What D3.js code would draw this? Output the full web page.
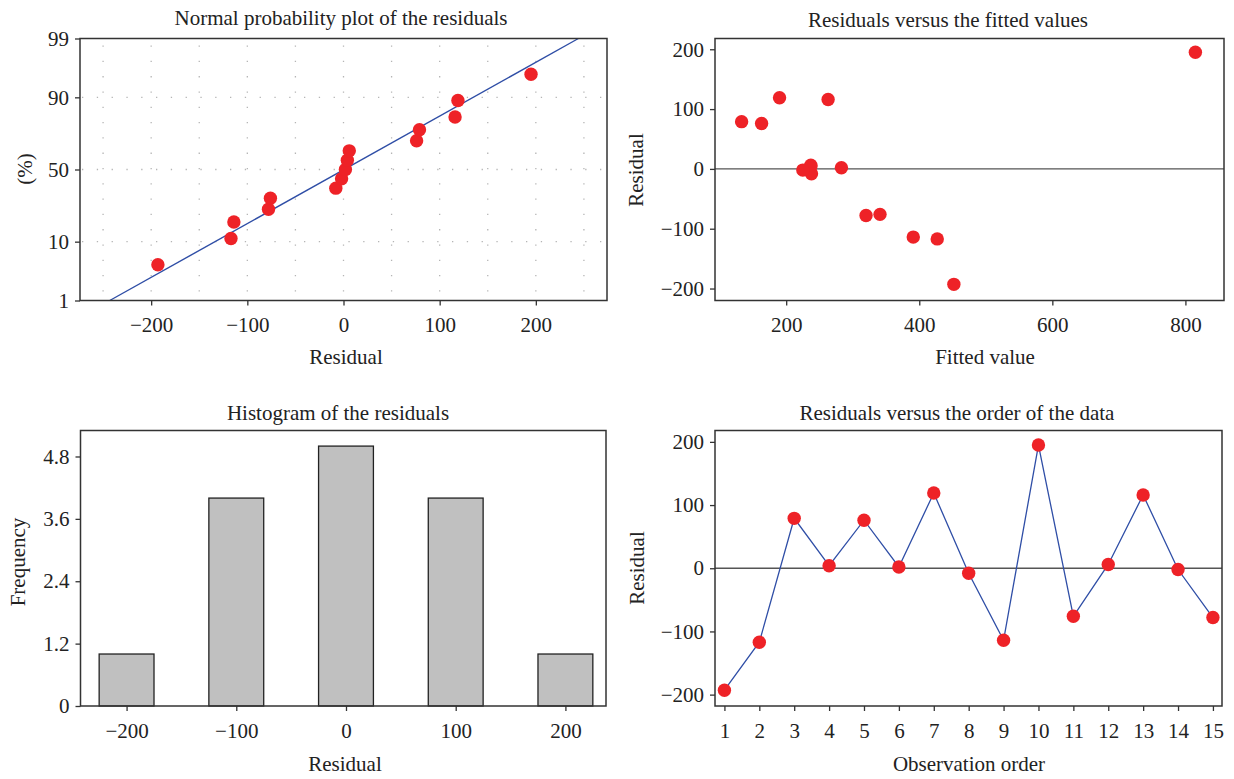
<!DOCTYPE html>
<html>
<head>
<meta charset="utf-8">
<script src="https://cdn.jsdelivr.net/npm/d3@7"></script>
<style>
  body { margin: 0; background: #fff; }
  svg { display: block; }
  text { font-family: "Liberation Serif", "DejaVu Serif", serif; fill: #222; }
  .tick text { font-size: 21px; }
  .tick line { stroke: #333; stroke-width: 1.3; }
</style>
</head>
<body>
<script>
// residuals in observation order, and the fitted value of each observation
let observation = d3.range(1, 16);
let residuals = [-193, -117, 79, 4, 76, 2, 119, -8, -114, 195, -76, 6, 116, -2, -78];
let fittedValues = [452, 427, 133, 237, 163, 283, 190, 238, 391, 815, 341, 237, 263, 225, 320];

// histogram of the residuals (bin midpoints and counts)
let histMids = [-200, -150, -100, -50, 0, 50, 100, 150, 200];
let histCounts = [1, 0, 4, 0, 5, 0, 4, 0, 1];

// tick labels
let pctTicks = [1, 10, 50, 90, 99];
let pctGrid = [10, 50, 90];
let residTicks = [-200, -100, 0, 100, 200];
let fittedTicks = [200, 400, 600, 800];
let freqTicks = [0, 1.2, 2.4, 3.6, 4.8];

let width = 1234, height = 779;
let red = "#ee2227", blue = "#2f4ea6";

let svg = d3.select("body").append("svg").attr("width", width).attr("height", height);

// inverse normal cdf (Acklam), used for the probability axis
function probit(p) {
    let a = [-39.69683028665376, 220.9460984245205, -275.9285104469687, 138.3577518672690, -30.66479806614716, 2.506628277459239];
    let b = [-54.47609879822406, 161.5858368580409, -155.6989798598866, 66.80131188771972, -13.28068155288572];
    let c = [-0.007784894002430293, -0.3223964580411365, -2.400758277161838, -2.549732539343734, 4.374664141464968, 2.938163982698783];
    let d = [0.007784695709041462, 0.3224671290700398, 2.445134137142996, 3.754408661907416];
    let q, r;
    if (p < 0.02425) {
        q = Math.sqrt(-2 * Math.log(p));
        return (((((c[0]*q+c[1])*q+c[2])*q+c[3])*q+c[4])*q+c[5]) / ((((d[0]*q+d[1])*q+d[2])*q+d[3])*q+1);
    }
    if (p > 1 - 0.02425) {
        q = Math.sqrt(-2 * Math.log(1 - p));
        return -(((((c[0]*q+c[1])*q+c[2])*q+c[3])*q+c[4])*q+c[5]) / ((((d[0]*q+d[1])*q+d[2])*q+d[3])*q+1);
    }
    q = p - 0.5; r = q * q;
    return (((((a[0]*r+a[1])*r+a[2])*r+a[3])*r+a[4])*r+a[5])*q / (((((b[0]*r+b[1])*r+b[2])*r+b[3])*r+b[4])*r+1);
}

function frame(box) {
    svg.append("rect")
        .attr("x", box.left).attr("y", box.top)
        .attr("width", box.right - box.left).attr("height", box.bottom - box.top)
        .attr("fill", "none").attr("stroke", "#333").attr("stroke-width", 1.5);
}

function axes(box, x, y, xTicks, yTicks, xFmt, yFmt) {
    let xa = svg.append("g").attr("transform", `translate(0,${box.bottom})`)
        .call(d3.axisBottom(x).tickValues(xTicks).tickSize(5).tickPadding(12).tickFormat(xFmt));
    let ya = svg.append("g").attr("transform", `translate(${box.left},0)`)
        .call(d3.axisLeft(y).tickValues(yTicks).tickSize(5).tickPadding(6).tickFormat(yFmt));
    xa.select(".domain").remove();
    ya.select(".domain").remove();
    xa.selectAll("text").attr("font-family", null).attr("font-size", null).attr("dy", "0.71em");
    ya.selectAll("text").attr("font-family", null).attr("font-size", null);
}

function label(txt, x, y, size, rotate) {
    let t = svg.append("text").text(txt).attr("text-anchor", "middle").attr("font-size", size);
    if (rotate) t.attr("transform", `translate(${x},${y}) rotate(-90)`);
    else t.attr("x", x).attr("y", y);
}

// ---------- normal probability plot ----------
let b1 = {left: 80, right: 607, top: 38.5, bottom: 300.5};
let x1 = d3.scaleLinear().domain([-274, 274]).range([b1.left, b1.right]);
let y1 = d3.scaleLinear().domain([probit(0.01), probit(0.99)]).range([b1.bottom, b1.top]);

let gridG = svg.append("g").attr("stroke", "#b5b5b5").attr("stroke-width", 1.3);
gridG.selectAll(".vg").data(d3.range(-250, 251, 50)).join("line")
    .attr("x1", d => x1(d)).attr("x2", d => x1(d))
    .attr("y1", b1.top + 7).attr("y2", b1.bottom)
    .attr("stroke-dasharray", "1.3 14");
gridG.selectAll(".hg").data(pctGrid).join("line")
    .attr("x1", b1.left + 2).attr("x2", b1.right)
    .attr("y1", d => y1(probit(d / 100))).attr("y2", d => y1(probit(d / 100)))
    .attr("stroke-dasharray", "1.3 13.5");

let sorted = residuals.slice().sort(d3.ascending);
let n = sorted.length;
let probPts = sorted.map((r, i) => ({r: r, z: probit((i + 1 - 0.3) / (n + 0.4))}));
let mu = d3.mean(residuals), sd = d3.deviation(residuals);

let fitLine = d3.line().x(z => x1(mu + sd * z)).y(z => y1(z));
svg.append("path").attr("d", fitLine([probit(0.01), probit(0.99)]))
    .attr("fill", "none").attr("stroke", blue).attr("stroke-width", 1.4);

svg.append("g").selectAll("circle").data(probPts).join("circle")
    .attr("cx", d => x1(d.r)).attr("cy", d => y1(d.z)).attr("r", 6.7).attr("fill", red);

frame(b1);
axes(b1, x1, y1, residTicks, pctTicks.map(p => probit(p / 100)), d3.format(""), (d, i) => pctTicks[i]);
label("Normal probability plot of the residuals", 341, 25, 21);
label("Residual", 346, 364, 21);
label("(%)", 32, 169, 21, true);

// ---------- residuals versus fitted values ----------
let b2 = {left: 715, right: 1224, top: 38.5, bottom: 300.5};
let x2 = d3.scaleLinear().domain([93, 858]).range([b2.left, b2.right]);
let y2 = d3.scaleLinear().domain([-220, 218]).range([b2.bottom, b2.top]);

svg.append("line").attr("x1", b2.left).attr("x2", b2.right)
    .attr("y1", y2(0)).attr("y2", y2(0)).attr("stroke", "#555").attr("stroke-width", 1.3);
svg.append("g").selectAll("circle").data(residuals).join("circle")
    .attr("cx", (d, i) => x2(fittedValues[i])).attr("cy", d => y2(d)).attr("r", 6.7).attr("fill", red);

frame(b2);
axes(b2, x2, y2, fittedTicks, residTicks, d3.format(""), d3.format(""));
label("Residuals versus the fitted values", 948, 27, 21);
label("Fitted value", 985, 364, 21);
label("Residual", 643, 170, 21, true);

// ---------- histogram ----------
let b3 = {left: 80.5, right: 606, top: 430.5, bottom: 706};
let x3 = d3.scaleLinear().domain([-242, 237]).range([b3.left, b3.right]);
let y3 = d3.scaleLinear().domain([0, 5.3]).range([b3.bottom, b3.top]);

svg.append("g").selectAll("rect").data(histCounts).join("rect")
    .attr("x", (d, i) => x3(histMids[i] - 25))
    .attr("width", (d, i) => x3(histMids[i] + 25) - x3(histMids[i] - 25))
    .attr("y", d => y3(d)).attr("height", d => y3(0) - y3(d))
    .attr("fill", "#c0c0c0").attr("stroke", "#222").attr("stroke-width", 1.3);

frame(b3);
axes(b3, x3, y3, residTicks, freqTicks, d3.format(""), d => d === 0 ? "0" : d.toFixed(1));
label("Histogram of the residuals", 338, 420, 21);
label("Residual", 345, 771, 21);
label("Frequency", 25, 562, 21, true);

// ---------- residuals versus order ----------
let b4 = {left: 715, right: 1222, top: 430.5, bottom: 706};
let x4 = d3.scaleLinear().domain([0.73, 15.26]).range([b4.left, b4.right]);
let y4 = d3.scaleLinear().domain([-218, 218]).range([b4.bottom, b4.top]);

svg.append("line").attr("x1", b4.left).attr("x2", b4.right)
    .attr("y1", y4(0)).attr("y2", y4(0)).attr("stroke", "#555").attr("stroke-width", 1.3);

let orderLine = d3.line().x((d, i) => x4(observation[i])).y(d => y4(d));
svg.append("path").attr("d", orderLine(residuals))
    .attr("fill", "none").attr("stroke", blue).attr("stroke-width", 1.3);
svg.append("g").selectAll("circle").data(residuals).join("circle")
    .attr("cx", (d, i) => x4(observation[i])).attr("cy", d => y4(d)).attr("r", 6.7).attr("fill", red);

frame(b4);
axes(b4, x4, y4, observation, residTicks, d3.format(""), d3.format(""));
label("Residuals versus the order of the data", 957, 420, 21);
label("Observation order", 969, 771, 21);
label("Residual", 644, 568, 21, true);
</script>
</body>
</html>
